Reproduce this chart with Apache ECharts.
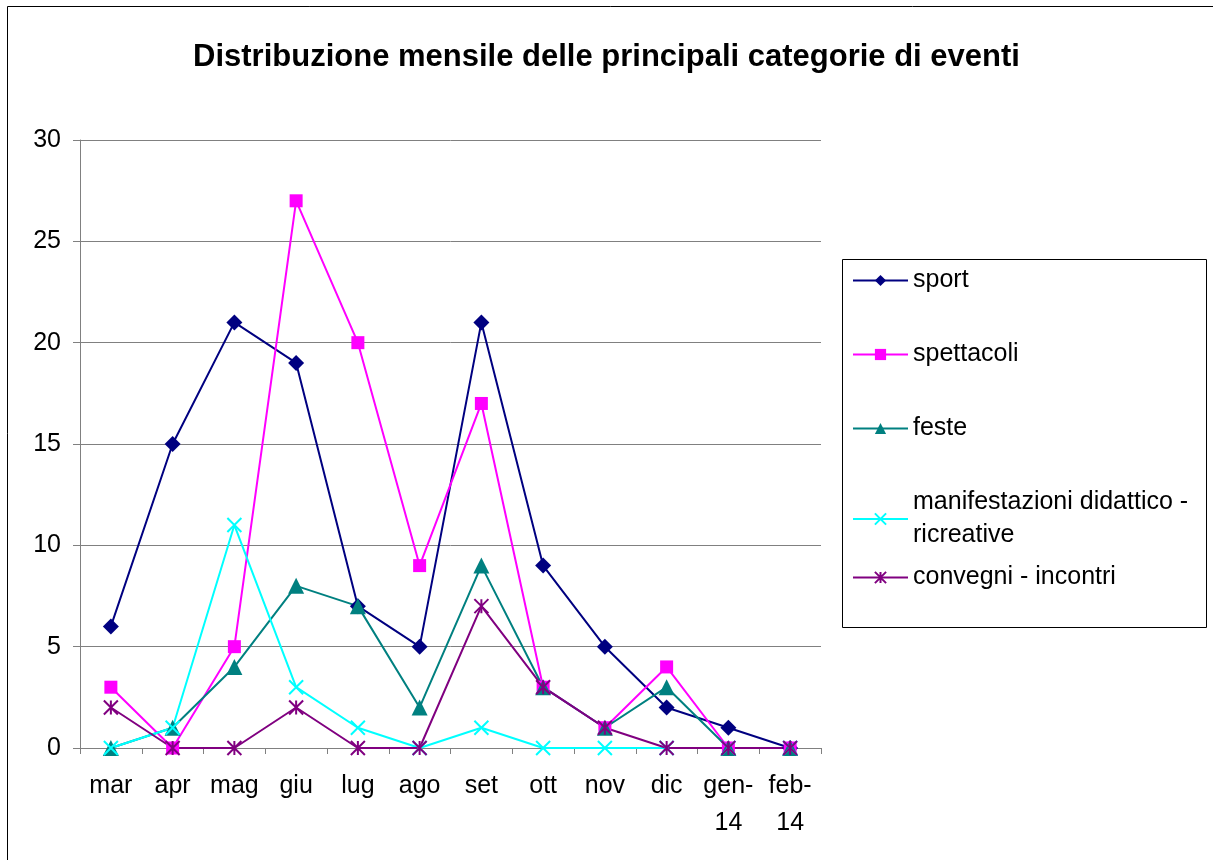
<!DOCTYPE html>
<html>
<head>
<meta charset="utf-8">
<script src="https://cdn.jsdelivr.net/npm/echarts@6/dist/echarts.min.js"></script>
<style>
  html, body { margin: 0; padding: 0; background: #fff; }
  #chart { width: 1213px; height: 860px; }
</style>
</head>
<body>
<div id="chart"></div>
<script>
// dati
const months = ['mar', 'apr', 'mag', 'giu', 'lug', 'ago', 'set', 'ott', 'nov', 'dic', 'gen-\n14', 'feb-\n14']
const sport = [6, 15, 21, 19, 7, 5, 21, 9, 5, 2, 1, 0]
const spettacoli = [3, 0, 5, 27, 20, 9, 17, 3, 1, 4, 0, 0]
const feste = [0, 1, 4, 8, 7, 2, 9, 3, 1, 3, 0, 0]
const manifestazioni = [0, 1, 11, 3, 1, 0, 1, 0, 0, 0, 0, 0]
const convegni = [2, 0, 0, 2, 0, 0, 7, 3, 1, 0, 0, 0]
const yTicks = [0, 5, 10, 15, 20, 25, 30]

const FONT = 'Liberation Sans, Arial, sans-serif'
const crossPath = 'path://M0,0L10,10M10,0L0,10'
const starPath = 'path://M0,0L10,10M10,0L0,10M5,0L5,10'

const chart = echarts.init(document.getElementById('chart'))

function serie(name, data, color, symbol, size, stroke) {
  return {
    name: name,
    type: 'line',
    data: data,
    symbol: symbol,
    symbolSize: size,
    lineStyle: { color: color, width: 2 },
    itemStyle: stroke
      ? { color: 'none', borderColor: color, borderWidth: 2 }
      : { color: color, borderWidth: 0 },
    emphasis: { disabled: true },
    z: 3
  }
}

// una legenda per voce, per controllare la spaziatura
const legendTops = [264, 338, 412, 486, 561]
const names = ['sport', 'spettacoli', 'feste', 'manifestazioni didattico -\nricreative', 'convegni - incontri']
const legends = names.map((n, i) => ({
  data: [n],
  orient: 'vertical',
  left: 852,
  top: legendTops[i],
  itemWidth: 55,
  itemHeight: 14,
  itemGap: 0,
  padding: 0,
  selectedMode: false,
  textStyle: { fontFamily: FONT, fontSize: 25, color: '#000', lineHeight: 33 }
}))

chart.setOption({
  animation: false,
  backgroundColor: '#fff',
  title: {
    text: 'Distribuzione mensile delle principali categorie di eventi',
    left: 'center',
    top: 37,
    textStyle: { fontFamily: FONT, fontSize: 31, fontWeight: 'bold', color: '#000' }
  },
  graphic: [
    { type: 'rect', shape: { x: 7.5, y: 6.5, width: 1220, height: 870 },
      style: { fill: 'none', stroke: '#000', lineWidth: 1 }, z: 0 },
    { type: 'rect', shape: { x: 842.5, y: 259.5, width: 364, height: 368 },
      style: { fill: '#fff', stroke: '#000', lineWidth: 1 }, z: 0 }
  ],
  legend: legends,
  grid: { left: 80, right: 392, top: 140, bottom: 112 },
  xAxis: {
    type: 'category',
    data: months,
    boundaryGap: true,
    axisLine: { lineStyle: { color: '#808080', width: 1 } },
    axisTick: { show: true, length: 6, lineStyle: { color: '#808080' } },
    axisLabel: { fontFamily: FONT, fontSize: 25, color: '#000', margin: 20, lineHeight: 37, interval: 0 },
    splitLine: { show: false }
  },
  yAxis: {
    type: 'value',
    min: yTicks[0],
    max: yTicks[yTicks.length - 1],
    interval: 5,
    axisLine: { show: true, lineStyle: { color: '#808080', width: 1 } },
    axisTick: { show: true, length: 7, lineStyle: { color: '#808080' } },
    axisLabel: { fontFamily: FONT, fontSize: 25, color: '#000', margin: 19 },
    splitLine: { show: true, lineStyle: { color: '#808080', width: 1 } }
  },
  series: [
    serie('sport', sport, '#000080', 'diamond', 16, false),
    serie('spettacoli', spettacoli, '#ff00ff', 'rect', 13, false),
    serie('feste', feste, '#008080', 'triangle', 16, false),
    serie('manifestazioni didattico -\nricreative', manifestazioni, '#00ffff', crossPath, 14, true),
    serie('convegni - incontri', convegni, '#800080', starPath, 14, true)
  ]
})
</script>
</body>
</html>
